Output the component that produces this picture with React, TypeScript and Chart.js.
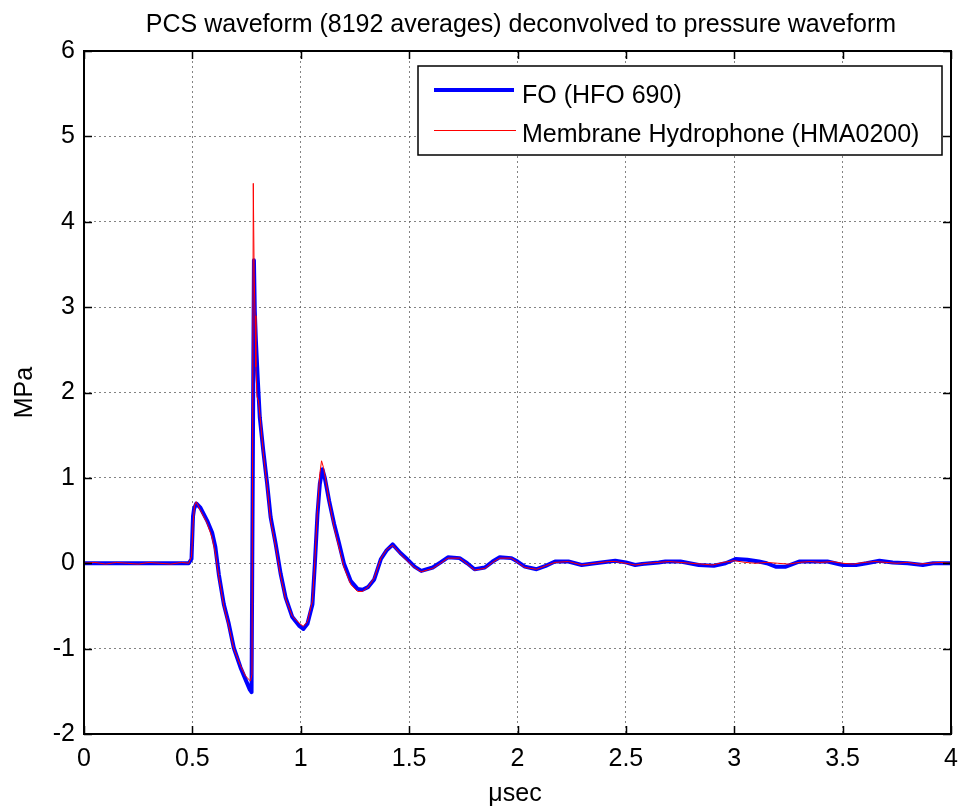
import React, { useEffect, useRef } from "react";
import { Chart, registerables } from "chart.js";

Chart.register(...registerables);

const TITLE = "PCS waveform (8192 averages) deconvolved to pressure waveform";
const X_LABEL = "\u03bcsec";
const Y_LABEL = "MPa";
const SERIES_NAMES = ["FO (HFO 690)", "Membrane Hydrophone (HMA0200)"];
const X_TICKS = [0, 0.5, 1, 1.5, 2, 2.5, 3, 3.5, 4];
const Y_TICKS = [-2, -1, 0, 1, 2, 3, 4, 5, 6];

// FO (HFO 690): [time µs, pressure MPa]
const foWave: number[][] = [
  [0, 0], [0.1, 0], [0.2, 0], [0.3, 0], [0.4, 0], [0.483, 0], [0.496, 0.05], [0.503, 0.55],
  [0.508, 0.64], [0.518, 0.7], [0.537, 0.65], [0.568, 0.5], [0.591, 0.36], [0.606, 0.19],
  [0.622, -0.13], [0.645, -0.48], [0.668, -0.71], [0.691, -0.99], [0.722, -1.22], [0.745, -1.36],
  [0.765, -1.48], [0.773, -1.51], [0.784, 3.55], [0.788, 2.95], [0.793, 2.61], [0.802, 2.14],
  [0.811, 1.71], [0.827, 1.32], [0.845, 0.93], [0.861, 0.54], [0.884, 0.23], [0.907, -0.12],
  [0.93, -0.4], [0.961, -0.63], [0.992, -0.73], [1.012, -0.77], [1.031, -0.71], [1.054, -0.48],
  [1.065, -0.01], [1.077, 0.57], [1.088, 0.93], [1.1, 1.1], [1.111, 1.0], [1.131, 0.73],
  [1.154, 0.46], [1.177, 0.23], [1.2, -0.01], [1.231, -0.21], [1.262, -0.3], [1.285, -0.31],
  [1.31, -0.28], [1.339, -0.19], [1.37, 0.05], [1.396, 0.15], [1.424, 0.22], [1.46, 0.12],
  [1.494, 0.04], [1.525, -0.04], [1.556, -0.09], [1.609, -0.05], [1.645, 0.01], [1.679, 0.07],
  [1.733, 0.06], [1.768, 0.0], [1.802, -0.07], [1.849, -0.05], [1.885, 0.02], [1.918, 0.07],
  [1.972, 0.06], [2.0, 0.02], [2.034, -0.04], [2.088, -0.07], [2.13, -0.03], [2.173, 0.02],
  [2.235, 0.02], [2.296, -0.02], [2.358, 0.0], [2.451, 0.03], [2.5, 0.01], [2.543, -0.02],
  [2.574, -0.01], [2.651, 0.01], [2.682, 0.02], [2.752, 0.02], [2.836, -0.02], [2.906, -0.03],
  [2.96, 0.0], [3.006, 0.05], [3.06, 0.04], [3.114, 0.02], [3.15, 0.0], [3.191, -0.04],
  [3.238, -0.04], [3.299, 0.02], [3.43, 0.02], [3.5, -0.02], [3.562, -0.02], [3.61, 0.0],
  [3.67, 0.03], [3.731, 0.01], [3.8, 0.0], [3.87, -0.02], [3.917, 0.0], [4.0, 0.0],
];

// Membrane Hydrophone (HMA0200): [time µs, pressure MPa]
const membraneWave: number[][] = [
  [0, 0], [0.05, 0.01], [0.1, -0.01], [0.15, 0.01], [0.2, 0], [0.25, -0.01], [0.3, 0.01],
  [0.35, 0], [0.4, -0.01], [0.45, 0.01], [0.483, 0], [0.496, 0.08], [0.503, 0.45], [0.51, 0.68],
  [0.518, 0.72], [0.537, 0.62], [0.568, 0.47], [0.591, 0.3], [0.606, 0.12], [0.622, -0.16],
  [0.645, -0.5], [0.668, -0.74], [0.691, -1.0], [0.722, -1.2], [0.745, -1.32], [0.768, -1.38],
  [0.775, -1.3], [0.781, 4.45], [0.785, 3.4], [0.789, 2.9], [0.793, 2.3], [0.798, 1.95],
  [0.805, 1.9], [0.811, 1.75], [0.827, 1.3], [0.845, 0.9], [0.861, 0.5], [0.884, 0.2],
  [0.907, -0.15], [0.93, -0.42], [0.961, -0.62], [0.992, -0.7], [1.012, -0.74], [1.031, -0.68],
  [1.054, -0.44], [1.065, 0.02], [1.077, 0.62], [1.088, 1.05], [1.096, 1.2], [1.105, 1.12],
  [1.115, 0.98], [1.131, 0.72], [1.154, 0.42], [1.177, 0.18], [1.2, -0.05], [1.231, -0.25],
  [1.262, -0.33], [1.285, -0.33], [1.31, -0.28], [1.339, -0.17], [1.37, 0.06], [1.396, 0.16],
  [1.424, 0.21], [1.46, 0.11], [1.494, 0.02], [1.525, -0.05], [1.556, -0.1], [1.609, -0.06],
  [1.645, 0.0], [1.679, 0.06], [1.733, 0.06], [1.768, -0.01], [1.802, -0.08], [1.849, -0.06],
  [1.885, 0.01], [1.918, 0.06], [1.972, 0.06], [2.0, 0.01], [2.034, -0.05], [2.088, -0.07],
  [2.13, -0.03], [2.173, 0.01], [2.235, 0.02], [2.296, -0.02], [2.358, 0.0], [2.42, 0.02],
  [2.451, 0.02], [2.5, 0.0], [2.543, -0.02], [2.6, 0.0], [2.651, 0.01], [2.7, 0.02],
  [2.75, 0.01], [2.8, 0.0], [2.85, -0.01], [2.9, -0.02], [2.95, 0.01], [3.0, 0.03],
  [3.05, 0.01], [3.1, 0.0], [3.15, 0.01], [3.2, 0.0], [3.25, -0.01], [3.3, 0.01], [3.35, 0.02],
  [3.4, 0.01], [3.45, 0.02], [3.5, 0.0], [3.55, -0.01], [3.6, 0.01], [3.65, 0.02], [3.7, 0.01],
  [3.75, 0.0], [3.8, 0.01], [3.85, -0.01], [3.9, 0.0], [3.95, 0.01], [4.0, 0.0],
];

const FONT = "'Liberation Sans', Arial, Helvetica, sans-serif";
const FONT_SIZE = 25;
const BLUE = "#0000ff";
const RED = "#ff0000";

const decorPlugin = {
  id: "matlabDecor",
  afterDraw(chart: any) {
    const { ctx, chartArea, scales } = chart;
    const { left, top, right, bottom } = chartArea;
    const xs = scales.x;
    const ys = scales.y;
    ctx.save();
    ctx.strokeStyle = "#000";
    ctx.lineWidth = 1.5;
    const tl = 8;
    ctx.beginPath();
    X_TICKS.forEach((v) => {
      const px = Math.round(xs.getPixelForValue(v)) + 0.5;
      ctx.moveTo(px, bottom);
      ctx.lineTo(px, bottom - tl);
      ctx.moveTo(px, top);
      ctx.lineTo(px, top + tl);
    });
    Y_TICKS.forEach((v) => {
      const py = Math.round(ys.getPixelForValue(v)) + 0.5;
      ctx.moveTo(left, py);
      ctx.lineTo(left + tl, py);
      ctx.moveTo(right, py);
      ctx.lineTo(right - tl, py);
    });
    ctx.stroke();

    ctx.lineWidth = 2;
    ctx.strokeRect(left, top, right - left, bottom - top);

    ctx.fillStyle = "#000";
    ctx.font = `${FONT_SIZE}px ${FONT}`;
    ctx.textAlign = "center";
    ctx.textBaseline = "alphabetic";
    ctx.fillText(TITLE, 521, 32);
    ctx.fillText(X_LABEL, 515, 801);

    ctx.save();
    ctx.translate(32, (top + bottom) / 2);
    ctx.rotate(-Math.PI / 2);
    ctx.fillText(Y_LABEL, 0, 0);
    ctx.restore();

    // legend
    const lx1 = 418, ly1 = 66, lx2 = 942, ly2 = 155;
    ctx.fillStyle = "#fff";
    ctx.fillRect(lx1, ly1, lx2 - lx1, ly2 - ly1);
    ctx.strokeStyle = "#000";
    ctx.lineWidth = 1.5;
    ctx.strokeRect(lx1, ly1, lx2 - lx1, ly2 - ly1);

    ctx.lineWidth = 4;
    ctx.strokeStyle = BLUE;
    ctx.beginPath();
    ctx.moveTo(434, 90);
    ctx.lineTo(514, 90);
    ctx.stroke();
    ctx.lineWidth = 1;
    ctx.strokeStyle = RED;
    ctx.beginPath();
    ctx.moveTo(434, 130.5);
    ctx.lineTo(516, 130.5);
    ctx.stroke();

    ctx.fillStyle = "#000";
    ctx.textAlign = "left";
    ctx.fillText(SERIES_NAMES[0], 522, 103);
    ctx.fillText(SERIES_NAMES[1], 522, 142);
    ctx.restore();
  },
};

export default function App() {
  const canvasRef = useRef<HTMLCanvasElement | null>(null);

  useEffect(() => {
    const canvas = canvasRef.current;
    if (!canvas) return;
    const gridColor = "rgba(90,90,90,0.75)";
    const chart = new Chart(canvas, {
      type: "line",
      data: {
        datasets: [
          {
            label: SERIES_NAMES[0],
            data: foWave.map(([x, y]) => ({ x, y })),
            borderColor: BLUE,
            backgroundColor: BLUE,
            borderWidth: 4,
            pointRadius: 0,
            tension: 0,
            borderJoinStyle: "round",
            borderCapStyle: "round",
            order: 2,
          },
          {
            label: SERIES_NAMES[1],
            data: membraneWave.map(([x, y]) => ({ x, y })),
            borderColor: RED,
            backgroundColor: RED,
            borderWidth: 1,
            pointRadius: 0,
            tension: 0,
            order: 1,
          },
        ],
      },
      options: {
        responsive: false,
        animation: false,
        devicePixelRatio: 1,
        layout: { padding: { top: 51, right: 7, left: 0, bottom: 0 } },
        plugins: {
          legend: { display: false },
          tooltip: { enabled: false },
          title: { display: false },
        },
        scales: {
          x: {
            type: "linear",
            min: 0,
            max: 4,
            afterBuildTicks: (s: any) => {
              s.ticks = X_TICKS.map((v) => ({ value: v }));
            },
            afterFit: (s: any) => {
              s.height = 73;
              s.paddingLeft = 0;
              s.paddingRight = 0;
            },
            ticks: {
              autoSkip: false,
              maxRotation: 0,
              padding: 10,
              color: "#000",
              font: { family: FONT, size: FONT_SIZE },
              callback: (v: any) => String(v),
            },
            grid: { color: gridColor, lineWidth: 1, drawTicks: false },
            border: { display: false, dash: [2, 3] },
          },
          y: {
            type: "linear",
            min: -2,
            max: 6,
            afterBuildTicks: (s: any) => {
              s.ticks = Y_TICKS.map((v) => ({ value: v }));
            },
            afterFit: (s: any) => {
              s.width = 84;
              s.paddingTop = 0;
              s.paddingBottom = 0;
            },
            ticks: {
              autoSkip: false,
              padding: 9,
              color: "#000",
              font: { family: FONT, size: FONT_SIZE },
              callback: (v: any) => String(v),
            },
            grid: { color: gridColor, lineWidth: 1, drawTicks: false },
            border: { display: false, dash: [2, 3] },
          },
        },
      },
      plugins: [decorPlugin],
    } as any);
    return () => chart.destroy();
  }, []);

  return (
    <div style={{ position: "fixed", left: 0, top: 0, width: 958, height: 807, background: "#fff" }}>
      <canvas ref={canvasRef} width={958} height={807} style={{ display: "block" }} />
    </div>
  );
}
